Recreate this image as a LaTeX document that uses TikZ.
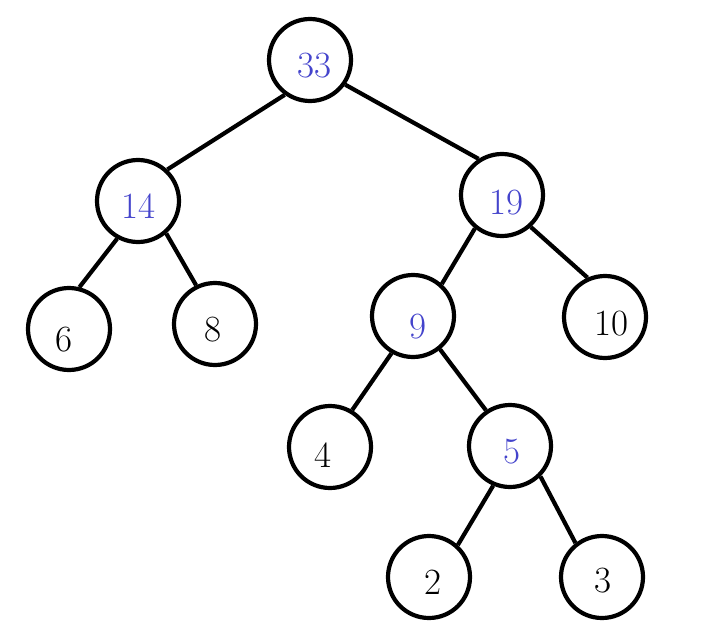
\documentclass[tikz,border=0pt]{standalone}
\begin{document}
\begin{tikzpicture}[x=1pt,y=-1pt,
  circ/.style={draw=black,line width=4.2pt,circle,minimum size=82pt,inner sep=0pt,fill=white},
  edge/.style={draw=black,line width=4.2pt},
  lab/.style={inner sep=0pt,font=\fontsize{37}{40}\selectfont},
  inner/.style={lab,text=innerblue},
  leaf/.style={lab,text=black}]
\definecolor{innerblue}{RGB}{68,68,204}
\useasboundingbox (0,0) rectangle (703,631);
% circles
\node[circ] (n33) at (310,60) {};
\node[circ] (n14) at (138,201) {};
\node[circ] (n19) at (502,195) {};
\node[circ] (n6) at (69,329) {};
\node[circ] (n8) at (215,324) {};
\node[circ] (n9) at (413,316) {};
\node[circ] (n10) at (605,317) {};
\node[circ] (n4) at (330,447) {};
\node[circ] (n5) at (510,446) {};
\node[circ] (n2) at (429,577) {};
\node[circ] (n3) at (602,577) {};
% edges
\draw[edge] (n33.234) -- (n14.47);
\draw[edge] (n33.325) -- (n19.123);
\draw[edge] (n14.241) -- (n6.76);
\draw[edge] (n14.311) -- (n8.116);
\draw[edge] (n19.231) -- (n9.48);
\draw[edge] (n19.312) -- (n10.114);
\draw[edge] (n9.240) -- (n4.59);
\draw[edge] (n9.309) -- (n5.124);
\draw[edge] (n5.247) -- (n2.48);
\draw[edge] (n5.315) -- (n3.128);
% labels
\node[inner] (t33) at (314,66) {33};
\node[inner] (t14) at (138,206) {14};
\node[inner] (t19) at (506,203) {19};
\node[leaf] (t6) at (64,340) {6};
\node[leaf] (t8) at (213,330) {8};
\node[inner] (t9) at (418,327) {9};
\node[leaf] (t10) at (611,324) {10};
\node[leaf] (t4) at (323,455) {4};
\node[inner] (t5) at (512,452) {5};
\node[leaf] (t2) at (433,582) {2};
\node[leaf] (t3) at (603,581) {3};
\end{tikzpicture}
\end{document}
